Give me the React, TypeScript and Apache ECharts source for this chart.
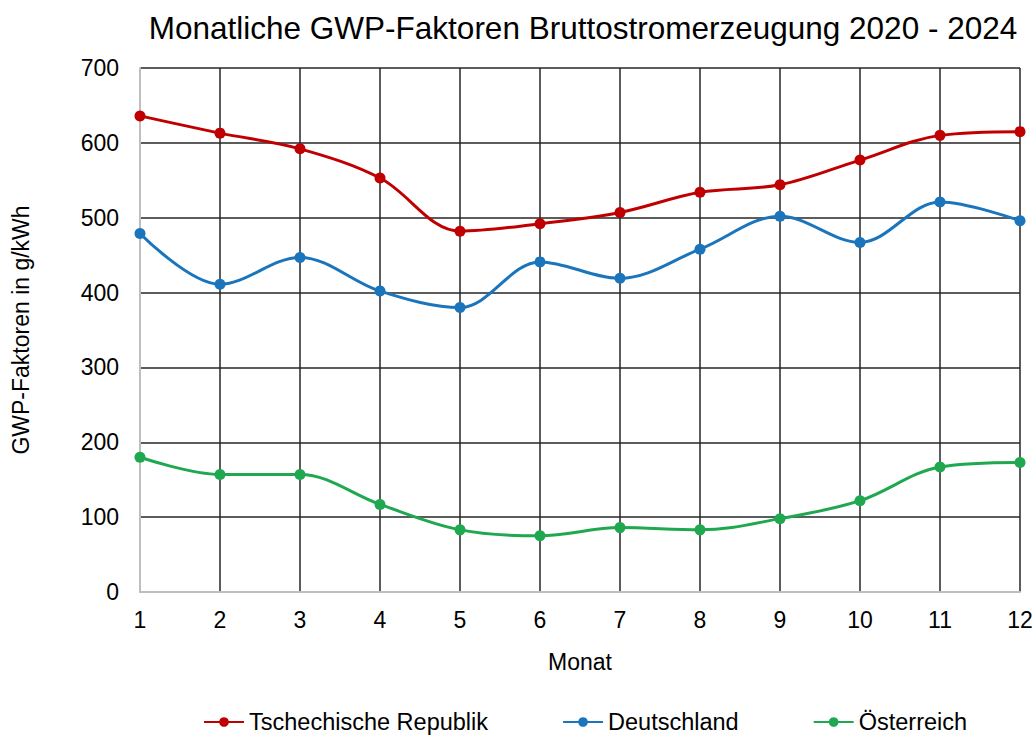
import React, { useEffect, useRef } from "react";
import * as echarts from "echarts";

const months = ["1", "2", "3", "4", "5", "6", "7", "8", "9", "10", "11", "12"];
const tschechien = [636, 613, 592, 553, 482, 492, 507, 534, 544, 577, 610, 615];
const deutschland = [479, 411, 447, 402, 380, 441, 419, 458, 502, 467, 521, 496];
const oesterreich = [180, 157, 157, 117, 83, 75, 86, 83, 98, 122, 167, 173];

const seriesNames = ["Tschechische Republik", "Deutschland", "Österreich"];
const seriesColors = ["#C00000", "#1A75BC", "#1FA84F"];

const FONT = "'Liberation Sans', Arial, sans-serif";

export default function App() {
  const ref = useRef<HTMLDivElement>(null);
  useEffect(() => {
    if (!ref.current) return;
    const chart = echarts.init(ref.current, undefined, { renderer: "svg" });
    const data = [tschechien, deutschland, oesterreich];
    chart.setOption({
      animation: false,
      backgroundColor: "#ffffff",
      textStyle: { fontFamily: FONT, color: "#000" },
      title: {
        text: "Monatliche GWP-Faktoren Bruttostromerzeugung 2020 - 2024",
        left: 583,
        textAlign: "center",
        top: 12,
        padding: 0,
        textStyle: { fontFamily: FONT, fontSize: 31.5, fontWeight: "normal", color: "#000" },
      },
      legend: {
        top: 710,
        left: 203,
        padding: 0,
        itemWidth: 40,
        itemHeight: 12,
        itemGap: 74,
        data: seriesNames,
        textStyle: { fontFamily: FONT, fontSize: 23.5, color: "#000" },
      },
      grid: {
        left: 140,
        right: 14,
        top: 68,
        bottom: 144,
        containLabel: false,
        outerBoundsMode: "none",
      },
      xAxis: {
        type: "category",
        data: months,
        boundaryGap: false,
        name: "Monat",
        nameLocation: "middle",
        nameGap: 58,
        nameTextStyle: { fontFamily: FONT, fontSize: 23, color: "#000" },
        axisLine: { show: true, lineStyle: { color: "#BFBFBF", width: 2 } },
        axisTick: { show: false },
        axisLabel: { fontFamily: FONT, fontSize: 23, color: "#000", margin: 16 },
        splitLine: { show: true, lineStyle: { color: "#262626", width: 1.5 } },
      },
      yAxis: {
        type: "value",
        min: 0,
        max: 700,
        interval: 100,
        name: "GWP-Faktoren in g/kWh",
        nameLocation: "middle",
        nameGap: 108,
        nameTextStyle: { fontFamily: FONT, fontSize: 23, color: "#000" },
        axisLine: { show: true, lineStyle: { color: "#BFBFBF", width: 2 } },
        axisTick: { show: false },
        axisLabel: { fontFamily: FONT, fontSize: 23, color: "#000", margin: 21 },
        splitLine: { show: true, lineStyle: { color: "#262626", width: 1.5 } },
      },
      series: seriesNames.map((name, i) => ({
        name,
        type: "line",
        data: data[i],
        smooth: 0.35,
        symbol: "circle",
        symbolSize: 11,
        color: seriesColors[i],
        lineStyle: { width: 3, color: seriesColors[i] },
        itemStyle: { color: seriesColors[i] },
        z: 3 + i,
      })),
    });
    return () => chart.dispose();
  }, []);
  return (
    <div
      ref={ref}
      style={{ position: "absolute", left: 0, top: 0, width: 1034, height: 736 }}
    />
  );
}
